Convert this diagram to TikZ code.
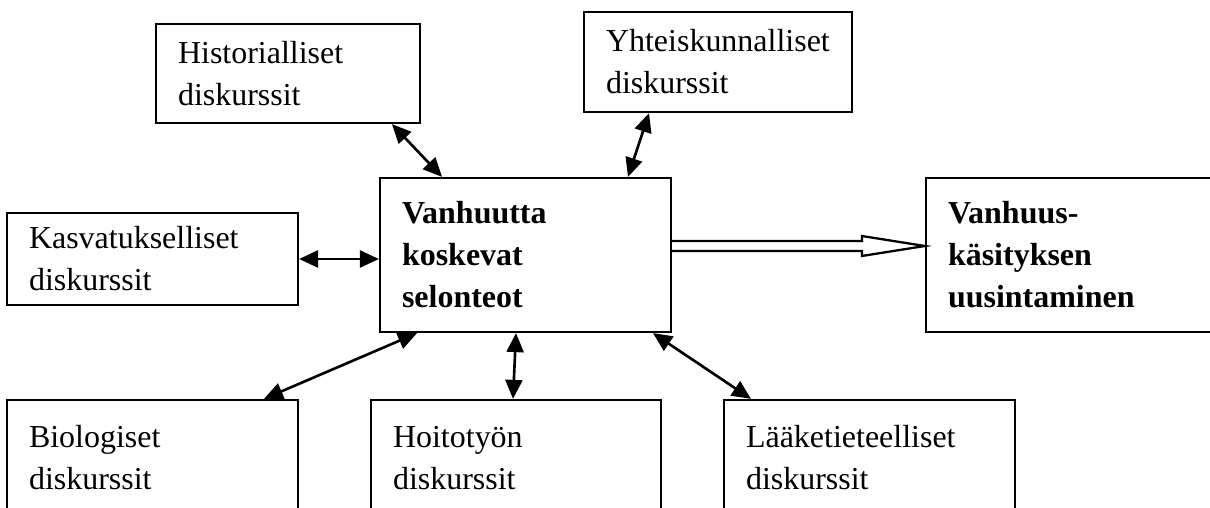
\documentclass[tikz,border=0pt]{standalone}
\usepackage{fontspec}
\setmainfont{Liberation Serif}
\usetikzlibrary{positioning, arrows.meta, calc}
\tikzset{
 disc/.style n args={3}{draw, shape=rectangle, line width=1.3pt, anchor=center,
    minimum width=#1, minimum height=#2, text width=#3, align=left,
    inner xsep=0.44cm, inner ysep=0pt,
    font=\fontsize{18.2}{23.9}\selectfont}
}
\begin{document}
\begin{tikzpicture}[x=0.02cm, y=-0.02cm]
\tikzstyle{main}=[font=\fontsize{18.2}{23.9}\selectfont\bfseries]
\tikzstyle{connect}=[{Triangle[length=0.38cm,width=0.34cm]}-{Triangle[length=0.38cm,width=0.34cm]}, line width=1.5pt]
\tikzstyle{hollow}=[line width=1.3pt, fill=white]
\useasboundingbox (0,0) rectangle (1210,507);
\clip (0,0) rectangle (1210,507);
% 1. Nodes
%%%%%%%%%%
\node[disc={5.28cm}{1.98cm}{4.4cm}] (hist) at (288,73.5) {Historialliset\\diskurssit};
\node[disc={5.36cm}{2.0cm}{4.48cm}] (yht) at (718,62) {Yhteiskunnalliset\\diskurssit};
\node[disc={5.82cm}{1.84cm}{4.94cm}] (kasv) at (152.5,259) {Kasvatukselliset\\diskurssit};
\node[disc={5.82cm}{3.08cm}{4.94cm}, main] (cent) at (525.5,255) {Vanhuutta\\koskevat\\selonteot};
\node[disc={5.88cm}{3.08cm}{5.0cm}, main] (uus) at (1073,255) {Vanhuus-\\käsityksen\\uusintaminen};
\node[disc={5.82cm}{2.32cm}{4.94cm}] (bio) at (152.5,458) {Biologiset\\diskurssit};
\node[disc={5.8cm}{2.32cm}{4.92cm}] (hoi) at (516,458) {Hoitotyön\\diskurssit};
\node[disc={5.82cm}{2.32cm}{4.94cm}] (laak) at (869.5,458) {Lääketieteelliset\\diskurssit};
% 2. Arrows
%%%%%%%%%%%
\draw[connect] ([xshift=2.08cm]hist.south) -- ([xshift=-1.67cm]cent.north);
\draw[connect] ([xshift=-1.38cm]yht.south) -- ([xshift=2.05cm]cent.north);
\draw[connect] (kasv.east) -- (kasv.east -| cent.west);
\draw[connect] ([xshift=-2.17cm]cent.south) -- ([xshift=2.23cm]bio.north);
\draw[connect] ([xshift=-0.19cm]cent.south) -- ([xshift=-0.06cm]hoi.north);
\draw[connect] ([xshift=2.55cm]cent.south) -- ([xshift=-2.37cm]laak.north);

\coordinate (from) at ([yshift=0.18cm]cent.east);
\coordinate (to) at (uus.west |- from);
\draw[hollow] ($(from)+(0,-5)$) -- ($(to)+(-63,-5)$) -- ($(to)+(-63,-10)$) -- (to)
   -- ($(to)+(-63,10)$) -- ($(to)+(-63,5)$) -- ($(from)+(0,5)$);
\end{tikzpicture}
\end{document}
